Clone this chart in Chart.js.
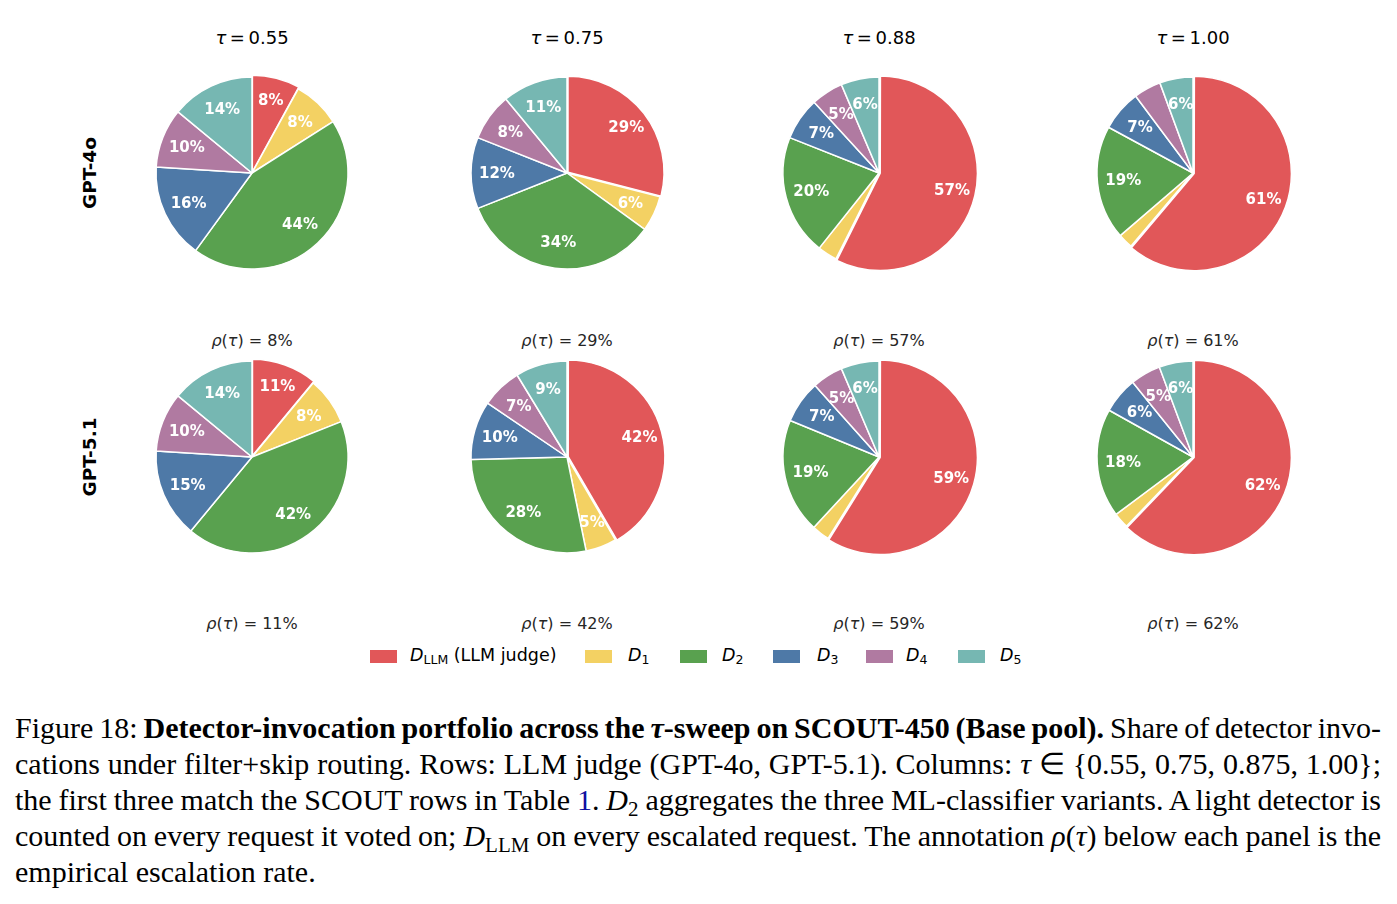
<!DOCTYPE html>
<html><head><meta charset="utf-8">
<script src="https://cdn.jsdelivr.net/npm/chart.js@4.4.1/dist/chart.umd.min.js"></script>
<style>
html,body{margin:0;padding:0;background:#fff;}
body{width:1397px;height:904px;position:relative;overflow:hidden;font-family:"DejaVu Sans",sans-serif;color:#000;}
.abs{position:absolute;}
.ctr{transform:translate(-50%,-50%);white-space:nowrap;}
.title{font-size:18px;}
.rho{font-size:16px;color:#262626;}
.rowlab{font-size:18.5px;font-weight:bold;transform:translate(-50%,-50%) rotate(-90deg);white-space:nowrap;}
.it{font-style:italic;}
.leg-patch{position:absolute;width:27px;height:13px;}
.leg-text{position:absolute;font-size:17.5px;white-space:nowrap;transform:translateY(-50%);}
.leg-text sub{font-size:12.5px;vertical-align:-3px;font-style:normal;}
.cap{position:absolute;left:15px;font-family:"Liberation Serif","Times New Roman",serif;font-size:30px;line-height:36px;white-space:nowrap;}
.cap .m{font-style:italic;}
.cap sub{font-size:21px;vertical-align:-6px;line-height:0;}
</style></head><body>
<script>
// ---- data ----
const categories = ['D_LLM (LLM judge)', 'D1', 'D2', 'D3', 'D4', 'D5'];
const judges = ['GPT-4o', 'GPT-5.1'];
const tauLabels = ['0.55', '0.75', '0.88', '1.00'];
// shares (%) per panel, order: D_LLM, D1, D2, D3, D4, D5
const gpt4oShares = [
  [8, 8, 44, 16, 10, 14],
  [29, 6, 34, 12, 8, 11],
  [57.4, 3.3, 20.3, 7.2, 5.4, 6.4],
  [61.2, 2.5, 19.2, 6.9, 4.6, 5.6]
];
const gpt51Shares = [
  [11, 8, 42, 15, 10, 14],
  [41.6, 5.2, 27.8, 9.9, 6.8, 8.7],
  [58.9, 3.0, 19.3, 7.2, 5.2, 6.4],
  [62.2, 2.6, 18.3, 6.1, 5.1, 5.7]
];
const rhoGpt4o = [8, 29, 57, 61];
const rhoGpt51 = [11, 42, 59, 62];
const colors = ['#E15759', '#F3D163', '#59A14F', '#4E79A7', '#B07AA1', '#76B7B2'];
</script>

<div id="root"></div>

<script>
const root = document.getElementById('root');
const colX = [252, 567, 879, 1193];
const rowY = [173, 457];
const rhoY = [340, 623];
const allShares = [gpt4oShares, gpt51Shares];
const allRho = [rhoGpt4o, rhoGpt51];

function addDiv(cls, x, y, html) {
  const d = document.createElement('div');
  d.className = 'abs ' + cls;
  d.style.left = x + 'px';
  d.style.top = y + 'px';
  d.innerHTML = html;
  root.appendChild(d);
  return d;
}

const pctLabels = {
  id: 'pctLabels',
  afterDatasetsDraw(chart) {
    const ctx = chart.ctx;
    const meta = chart.getDatasetMeta(0);
    const vals = chart.data.datasets[0].data;
    ctx.save();
    ctx.fillStyle = '#fff';
    ctx.font = 'bold 15px "DejaVu Sans"';
    ctx.textAlign = 'center';
    ctx.textBaseline = 'middle';
    meta.data.forEach((arc, i) => {
      const v = vals[i];
      if (v < 5) return;
      const p = arc.getProps(['x', 'y', 'startAngle', 'endAngle', 'outerRadius'], true);
      const mid = (p.startAngle + p.endAngle) / 2;
      const d = 0.73 * p.outerRadius + (arc.options.offset || 0);
      ctx.fillText(Math.round(v) + '%', p.x + Math.cos(mid) * d, p.y + Math.sin(mid) * d + 1);
    });
    ctx.restore();
  }
};

// titles
tauLabels.forEach((t, c) => addDiv('ctr title', colX[c], 37, '<span class="it">τ</span>\u2009=\u20090.' + t.slice(2)).innerHTML = '<span class="it">τ</span>\u2009=\u2009' + t);
// row labels
judges.forEach((j, r) => addDiv('rowlab', 89, rowY[r], j));

for (let r = 0; r < 2; r++) {
  for (let c = 0; c < 4; c++) {
    const wrap = document.createElement('div');
    wrap.className = 'abs';
    wrap.style.left = (colX[c] - 120) + 'px';
    wrap.style.top = (rowY[r] - 120) + 'px';
    const cv = document.createElement('canvas');
    cv.width = 240; cv.height = 240;
    cv.style.width = '240px'; cv.style.height = '240px';
    wrap.appendChild(cv);
    root.appendChild(wrap);
    const vals = allShares[r][c];
    new Chart(cv, {
      type: 'pie',
      data: {
        labels: categories,
        datasets: [{
          data: vals,
          backgroundColor: colors,
          borderColor: '#ffffff',
          borderWidth: 1.5,
          offset: vals.map((v, i) => i === 0 ? 5 : 0),
          radius: 96
        }]
      },
      options: {
        responsive: false,
        animation: false,
        events: [],
        radius: 96,
        layout: { padding: 0 },
        plugins: { legend: { display: false }, tooltip: { enabled: false }, title: { display: false } }
      },
      plugins: [pctLabels]
    });
    addDiv('ctr rho', colX[c], rhoY[r], '<span class="it">ρ</span>(<span class="it">τ</span>) = ' + allRho[r][c] + '%');
  }
}

// legend
const legPatchX = [370, 585, 680, 773, 866, 958];
const legTextX = [410, 628, 722, 817, 906, 1000];
const legHtml = ['<span class="it">D</span><sub>LLM</sub> (LLM judge)', '<span class="it">D</span><sub>1</sub>', '<span class="it">D</span><sub>2</sub>',
  '<span class="it">D</span><sub>3</sub>', '<span class="it">D</span><sub>4</sub>', '<span class="it">D</span><sub>5</sub>'];
categories.forEach((cat, i) => {
  const p = addDiv('leg-patch', legPatchX[i], 650, '');
  p.style.background = colors[i];
  addDiv('leg-text', legTextX[i], 656, legHtml[i]);
});

// caption
const capLines = [
  'Figure 18: <b>Detector-invocation portfolio across the <i>τ</i>-sweep on SCOUT-450 (Base pool).</b> Share of detector invo-',
  'cations under filter+skip routing. Rows: LLM judge (GPT-4o, GPT-5.1). Columns: <span class="m">τ</span> ∈ {0.55, 0.75, 0.875, 1.00};',
  'the first three match the SCOUT rows in Table <span style="color:#1010a0">1</span>. <span class="m">D</span><sub>2</sub> aggregates the three ML-classifier variants. A light detector is',
  'counted on every request it voted on; <span class="m">D</span><sub>LLM</sub> on every escalated request. The annotation <span class="m">ρ</span>(<span class="m">τ</span>) below each panel is the',
  'empirical escalation rate.'
];
capLines.forEach((html, i) => {
  const d = addDiv('cap', 15, 710 + i * 36, html);
  if (i < capLines.length - 1) {
    const w = d.getBoundingClientRect().width;
    const spaces = (d.textContent.match(/ /g) || []).length;
    d.style.wordSpacing = ((1366 - w) / spaces) + 'px';
  }
});
</script>
</body></html>
